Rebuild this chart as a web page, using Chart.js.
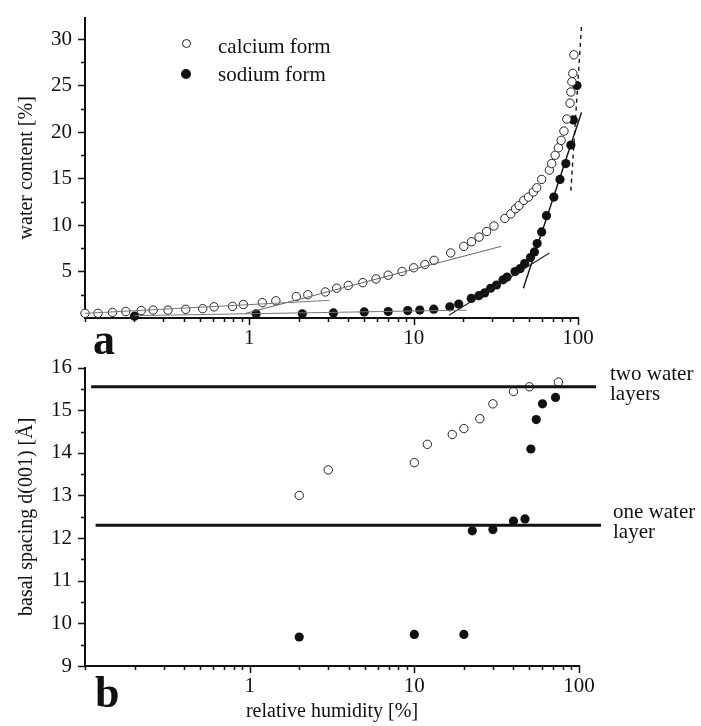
<!DOCTYPE html>
<html lang="en">
<head>
<meta charset="UTF-8">
<title>Water adsorption isotherms</title>
<script src="https://cdn.jsdelivr.net/npm/chart.js"></script>
<style>
  body, html { margin: 0; padding: 0; background: #fff; }
  .page { position: relative; width: 701px; height: 726px; font-family: 'Liberation Serif', 'DejaVu Serif', serif; color: #111; }
  .panel { position: absolute; left: 0; }
  #topPanel { top: 0; }
  #bottomPanel { top: 350px; }
  .lbl { position: absolute; font-size: 21px; line-height: 20px; white-space: nowrap; }
  .big { position: absolute; font-weight: bold; font-size: 44px; line-height: 44px; }
  .mk { position: absolute; border-radius: 50%; box-sizing: border-box; }
</style>
</head>
<body>
<div class="page">
  <canvas id="topChart" class="panel" width="701" height="350"></canvas>
  <canvas id="bottomChart" class="panel" width="701" height="376" style="top:350px"></canvas>

  <div class="mk" style="left:182px; top:39px; width:9px; height:9px; border:1px solid #222; background:#fff"></div>
  <div class="lbl" style="left:218px; top:36px">calcium form</div>
  <div class="mk" style="left:181px; top:69px; width:10px; height:10px; background:#111"></div>
  <div class="lbl" style="left:218px; top:64px">sodium form</div>

  <div class="big" style="left:93px; top:318px">a</div>
  <div class="big" style="left:95px; top:671px">b</div>

  <div class="lbl" style="left:610px; top:363px">two water<br>layers</div>
  <div class="lbl" style="left:613px; top:501px">one water<br>layer</div>
</div>

<script>
    // panel a: water content vs relative humidity
    const caRH = [0.1, 0.12, 0.147, 0.177, 0.22, 0.26, 0.32, 0.41, 0.52, 0.61,
                  0.79, 0.92, 1.2, 1.45, 1.93, 2.27, 2.9, 3.4, 4.0, 4.9,
                  5.9, 7.0, 8.5, 10.0, 11.7, 13.3, 16.8, 20.2, 22.5, 25.0,
                  27.8, 30.8, 35.9, 39.0, 41.7, 43.8, 46.8, 49.9, 53.5, 56.1,
                  60.1, 67.0, 69.2, 72.6, 76.0, 79.0, 82.1, 85.5, 89.4, 90.5,
                  91.8, 93.0, 94.4];
    const caWater = [0.5, 0.5, 0.6, 0.7, 0.8, 0.85, 0.85, 0.93, 1.0, 1.2,
                     1.25, 1.45, 1.65, 1.85, 2.3, 2.5, 2.8, 3.2, 3.5, 3.8,
                     4.2, 4.6, 5.0, 5.4, 5.75, 6.2, 7.0, 7.7, 8.2, 8.7,
                     9.3, 9.9, 10.7, 11.2, 11.75, 12.1, 12.65, 13.0, 13.55, 14.0,
                     14.9, 15.9, 16.6, 17.5, 18.3, 19.1, 20.1, 21.4, 23.1, 24.3,
                     25.4, 26.3, 28.3];
    const naRH = [0.2, 1.1, 2.1, 3.25, 5.0, 7.0, 9.2, 10.9, 13.25, 16.6,
                  18.8, 22.4, 24.9, 27.0, 29.4, 31.9, 35.0, 37.0, 41.4, 44.4,
                  47.4, 51.4, 54.3, 56.4, 60.1, 64.3, 71.3, 77.7, 84.3, 90.5,
                  93.6, 98.6];
    const naWater = [0.2, 0.45, 0.45, 0.55, 0.65, 0.7, 0.8, 0.85, 0.95, 1.2,
                     1.5, 2.1, 2.4, 2.7, 3.2, 3.55, 4.1, 4.4, 5.0, 5.3,
                     5.85, 6.5, 7.1, 8.0, 9.25, 11.0, 13.0, 14.9, 16.6, 18.6,
                     21.3, 25.0];

    // fitted straight segments drawn in panel a
    const caFit1X = [0.1, 3.07],  caFit1Y = [0.5, 1.9];
    const caFit2X = [0.95, 34],   caFit2Y = [0.5, 7.7];
    const naFit1X = [0.2, 21],    naFit1Y = [0.25, 0.85];
    const naFit2X = [16.4, 67],   naFit2Y = [0.3, 7.0];
    const naFit3X = [46.5, 105],  naFit3Y = [3.2, 22.1];
    const caDashX = [90.5, 105],  caDashY = [13.7, 31.3];

    // panel b: basal spacing vs relative humidity
    const caRH2 = [2, 3, 10, 12, 17, 20, 25, 30, 40, 50, 75];
    const caSpacing = [13.0, 13.6, 13.77, 14.2, 14.43, 14.57, 14.8, 15.15, 15.44, 15.55, 15.66];
    const naRH2 = [2, 10, 20, 22.5, 30, 40, 47, 51, 55, 60, 72];
    const naSpacing = [9.68, 9.74, 9.74, 12.17, 12.2, 12.4, 12.45, 14.09, 14.78, 15.15, 15.3];
    const twoLayerX = [0.109, 127], twoLayerY = [15.55, 15.55];
    const oneLayerX = [0.116, 136], oneLayerY = [12.3, 12.3];

    // axis ticks
    const xTicks = [0.1, 0.2, 0.3, 0.4, 0.5, 0.6, 0.7, 0.8, 0.9,
                    1, 2, 3, 4, 5, 6, 7, 8, 9,
                    10, 20, 30, 40, 50, 60, 70, 80, 90, 100];
    const xLabels = [1, 10, 100];
    const yTopTicks = [2.5, 5, 7.5, 10, 12.5, 15, 17.5, 20, 22.5, 25, 27.5, 30];
    const yTopLabels = [5, 10, 15, 20, 25, 30];
    const yBotTicks = [9, 9.5, 10, 10.5, 11, 11.5, 12, 12.5, 13, 13.5, 14, 14.5, 15, 15.5, 16];
    const yBotLabels = [9, 10, 11, 12, 13, 14, 15, 16];

    Chart.defaults.font.family = "'Liberation Serif', 'DejaVu Serif', serif";
    Chart.defaults.color = '#111';

    function pts(xs, ys) {
        return xs.map((x, i) => ({ x: x, y: ys[i] }));
    }

    function openPoints(xs, ys) {
        return { data: pts(xs, ys), showLine: false, pointRadius: 4.2, pointBorderWidth: 1,
                 pointBorderColor: '#222', pointBackgroundColor: '#fff', clip: false };
    }
    function filledPoints(xs, ys) {
        return { data: pts(xs, ys), showLine: false, pointRadius: 4.6, pointBorderWidth: 0,
                 pointBackgroundColor: '#111', pointBorderColor: '#111', clip: false };
    }
    function segment(xs, ys, color, width, dash) {
        return { data: pts(xs, ys), showLine: true, pointRadius: 0, borderColor: color,
                 borderWidth: width, borderDash: dash || [], clip: false };
    }

    // draws outward tick marks, longer on labelled values
    function tickMarks(xMajor, yMajor) {
        return {
            id: 'tickMarks',
            afterDraw(chart) {
                const ctx = chart.ctx, xs = chart.scales.x, ys = chart.scales.y;
                ctx.save();
                ctx.strokeStyle = '#111';
                ctx.lineWidth = 1.5;
                ctx.beginPath();
                xs.ticks.forEach(t => {
                    const px = Math.round(xs.getPixelForValue(t.value)) + 0.5;
                    const len = xMajor.includes(t.value) ? 7 : 4;
                    ctx.moveTo(px, xs.top);
                    ctx.lineTo(px, xs.top + len);
                });
                ys.ticks.forEach(t => {
                    const py = Math.round(ys.getPixelForValue(t.value)) + 0.5;
                    const len = yMajor.includes(t.value) ? 7 : 4;
                    ctx.moveTo(ys.right - len, py);
                    ctx.lineTo(ys.right, py);
                });
                ctx.stroke();
                ctx.restore();
            }
        };
    }

    function xScale(axisHeight, title) {
        return {
            type: 'logarithmic', min: 0.1, max: 100,
            afterBuildTicks: s => { s.ticks = xTicks.map(v => ({ value: v })); },
            afterFit: s => { s.height = axisHeight; },
            border: { color: '#111', width: 2 },
            grid: { drawOnChartArea: false, drawTicks: true, tickLength: 8, tickColor: 'rgba(0,0,0,0)' },
            ticks: { autoSkip: false, maxRotation: 0, padding: 0, font: { size: 21 },
                     callback: v => xLabels.includes(v) ? String(v) : '' },
            title: title ? { display: true, text: title, font: { size: 20 }, padding: { top: 0, bottom: 2 } }
                         : { display: false }
        };
    }

    function yScale(min, max, ticks, labels, title) {
        return {
            type: 'linear', min: min, max: max,
            afterBuildTicks: s => { s.ticks = ticks.map(v => ({ value: v })); },
            afterFit: s => { s.width = 85; },
            border: { color: '#111', width: 2 },
            grid: { drawOnChartArea: false, drawTicks: true, tickLength: 8, tickColor: 'rgba(0,0,0,0)' },
            ticks: { autoSkip: false, padding: 5, font: { size: 21 },
                     callback: v => labels.includes(v) ? String(v) : '' },
            title: { display: true, text: title, font: { size: 20 }, padding: { top: 15, bottom: 0 } }
        };
    }

    new Chart(document.getElementById('topChart'), {
        type: 'scatter',
        data: {
            datasets: [
                segment(caFit1X, caFit1Y, '#777', 1),
                segment(caFit2X, caFit2Y, '#666', 1),
                segment(naFit1X, naFit1Y, '#777', 1),
                segment(naFit2X, naFit2Y, '#222', 1.2),
                segment(naFit3X, naFit3Y, '#111', 1.4),
                segment(caDashX, caDashY, '#111', 1.4, [4, 4]),
                openPoints(caRH, caWater),
                filledPoints(naRH, naWater)
            ]
        },
        options: {
            responsive: false,
            animation: false,
            layout: { padding: { top: 16, right: 123, bottom: 0, left: 0 } },
            plugins: { legend: { display: false }, tooltip: { enabled: false } },
            scales: {
                x: xScale(32, null),
                y: yScale(0, 32.3, yTopTicks, yTopLabels, 'water content [%]')
            }
        },
        plugins: [tickMarks(xLabels, yTopLabels)]
    });

    new Chart(document.getElementById('bottomChart'), {
        type: 'scatter',
        data: {
            datasets: [
                segment(twoLayerX, twoLayerY, '#111', 3),
                segment(oneLayerX, oneLayerY, '#111', 3),
                openPoints(caRH2, caSpacing),
                filledPoints(naRH2, naSpacing)
            ]
        },
        options: {
            responsive: false,
            animation: false,
            layout: { padding: { top: 15, right: 122, bottom: 0, left: 0 } },
            plugins: { legend: { display: false }, tooltip: { enabled: false } },
            scales: {
                x: xScale(60, 'relative humidity [%]'),
                y: yScale(9, 16, yBotTicks, yBotLabels, 'basal spacing d(001) [Å]')
            }
        },
        plugins: [tickMarks(xLabels, yBotLabels)]
    });
</script>
</body>
</html>
